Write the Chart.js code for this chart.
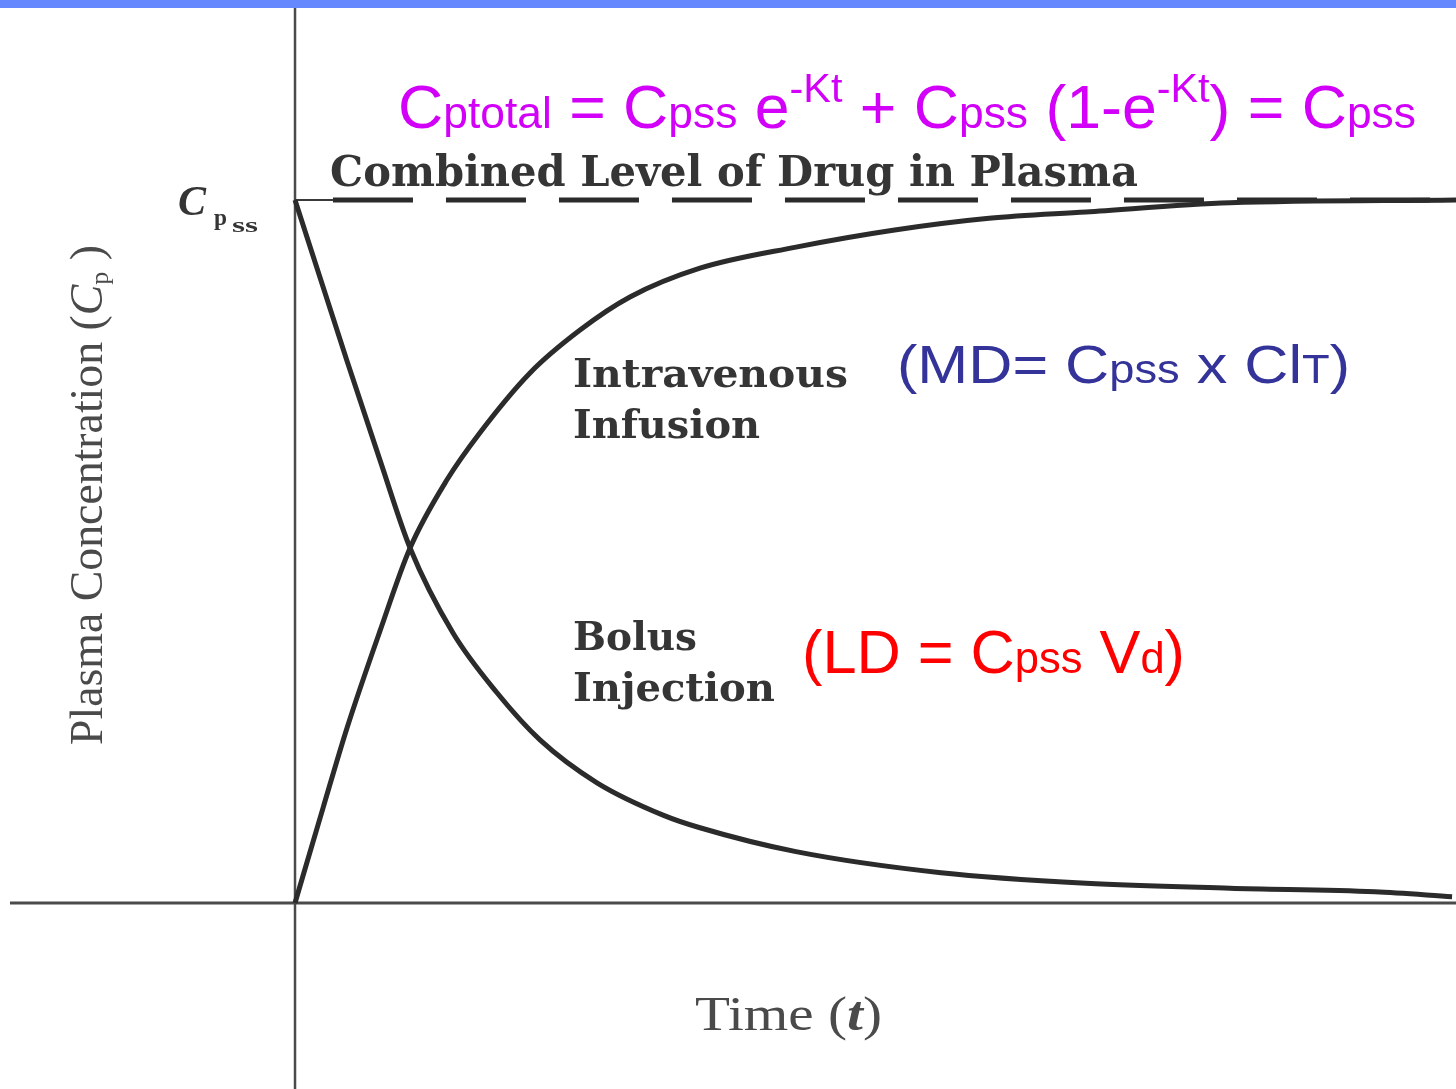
<!DOCTYPE html>
<html lang="en">
<head>
  <meta charset="UTF-8">
  <title>Bolus vs Infusion - Plasma Concentration</title>
  <script src="https://cdn.jsdelivr.net/npm/chart.js"></script>
  <style>
    body { margin: 0; background: #fff; overflow: hidden; }
    .topbar { position: absolute; left: 0; top: 0; width: 1456px; height: 8px; background: #6688ff; z-index: 2; }
    .wrap { position: absolute; left: 0; top: 0; width: 1456px; height: 1089px; }
  </style>
</head>
<body>
  <div class="topbar"></div>
  <div class="wrap"><canvas id="pkChart" width="1456" height="1089"></canvas></div>

  <script>
    // time in arbitrary units, concentration as a fraction of Cpss
    const bolusTime = [0, 0.448, 0.732, 0.991, 1.361, 1.740, 2.110, 2.601, 3.170, 3.488, 4.315, 5.564, 6.813, 8.053, 9.302, 9.966];
    const bolusConc = [1.0, 0.771, 0.630, 0.505, 0.384, 0.299, 0.232, 0.171, 0.125, 0.107, 0.073, 0.043, 0.028, 0.021, 0.016, 0.009];

    const infusionTime = [0, 0.241, 0.448, 0.732, 0.991, 1.309, 1.593, 2.024, 2.455, 2.885, 3.488, 4.315, 5.151, 5.978, 6.813, 8.053, 10];
    const infusionConc = [0, 0.135, 0.249, 0.387, 0.505, 0.602, 0.669, 0.754, 0.815, 0.862, 0.903, 0.933, 0.957, 0.974, 0.983, 0.996, 1.0];

    // combined steady-state level (dashed) and the short Cpss tick before it
    const levelTime = [0.327, 10];
    const levelConc = [1, 1];
    const tickTime = [0, 0.327];
    const tickConc = [1, 1];

    const xRange = [-2.541, 10];
    const yRange = [-0.2646, 1.2845];
    const timeAxisStart = -2.455;

    const toPoints = (xs, ys) => xs.map((x, i) => ({ x: x, y: ys[i] }));

    // draw text squeezed/stretched to a given width
    function fitText(ctx, text, x, y, width, font, color) {
      ctx.save();
      ctx.font = font;
      ctx.fillStyle = color;
      ctx.textBaseline = 'alphabetic';
      const w = ctx.measureText(text).width;
      ctx.translate(x, y);
      ctx.scale(width / w, 1);
      ctx.fillText(text, 0, 0);
      ctx.restore();
    }

    // runs of text with sub/superscripts: [text, font, dy]
    function drawRuns(ctx, runs, x, y, width, color) {
      ctx.save();
      ctx.fillStyle = color;
      ctx.textBaseline = 'alphabetic';
      let total = 0;
      runs.forEach(r => { ctx.font = r[1]; total += ctx.measureText(r[0]).width; });
      ctx.translate(x, y);
      ctx.scale(width / total, 1);
      let cx = 0;
      runs.forEach(r => {
        ctx.font = r[1];
        ctx.fillText(r[0], cx, r[2] || 0);
        cx += ctx.measureText(r[0]).width;
      });
      ctx.restore();
    }

    const axesPlugin = {
      id: 'axesLines',
      beforeDatasetsDraw(chart) {
        const { ctx, chartArea, scales } = chart;
        const x0 = scales.x.getPixelForValue(0);
        const y0 = scales.y.getPixelForValue(0);
        ctx.save();
        ctx.strokeStyle = '#4a4a4a';
        ctx.lineWidth = 3;
        ctx.beginPath();
        ctx.moveTo(scales.x.getPixelForValue(timeAxisStart), y0);
        ctx.lineTo(chartArea.right, y0);
        ctx.stroke();
        ctx.lineWidth = 2.5;
        ctx.beginPath();
        ctx.moveTo(x0, chartArea.top);
        ctx.lineTo(x0, chartArea.bottom);
        ctx.stroke();
        ctx.restore();
      }
    };

    const labelPlugin = {
      id: 'labels',
      afterDraw(chart) {
        const ctx = chart.ctx;
        const sans = '"Liberation Sans", Arial, sans-serif';
        const slab = '"DejaVu Serif", serif';
        const serif = '"Liberation Serif", "Times New Roman", serif';
        const ink = '#353535';

        // formula
        drawRuns(ctx, [
          ['C', '62px ' + sans], ['ptotal', '44px ' + sans], [' = ', '62px ' + sans],
          ['C', '62px ' + sans], ['pss', '44px ' + sans], [' e', '62px ' + sans],
          ['-Kt', '41px ' + sans, -26], [' + ', '62px ' + sans],
          ['C', '62px ' + sans], ['pss', '44px ' + sans], [' (1-e', '62px ' + sans],
          ['-Kt', '41px ' + sans, -26], [')', '62px ' + sans], [' = ', '62px ' + sans],
          ['C', '62px ' + sans], ['pss', '44px ' + sans]
        ], 398, 128, 1018, '#d200f8');

        fitText(ctx, 'Combined Level of Drug in Plasma', 330, 186, 808, 'bold 42px ' + slab, ink);
        fitText(ctx, 'Intravenous', 573, 387, 275, 'bold 40px ' + slab, ink);
        fitText(ctx, 'Infusion', 573, 438, 187, 'bold 40px ' + slab, ink);
        fitText(ctx, 'Bolus', 573, 650, 124, 'bold 40px ' + slab, ink);
        fitText(ctx, 'Injection', 573, 701, 202, 'bold 40px ' + slab, ink);

        drawRuns(ctx, [
          ['(MD= C', '54px ' + sans], ['pss', '40px ' + sans], [' x Cl', '54px ' + sans],
          ['T', '40px ' + sans], [')', '54px ' + sans]
        ], 897, 383, 453, '#333399');

        drawRuns(ctx, [
          ['(LD = C', '62px ' + sans], ['pss', '44px ' + sans], [' V', '62px ' + sans],
          ['d', '44px ' + sans], [')', '62px ' + sans]
        ], 802, 673, 383, '#ff0000');

        // Cpss tick label
        ctx.save();
        ctx.fillStyle = ink;
        ctx.font = 'italic bold 42px ' + serif;
        ctx.fillText('C', 178, 215);
        ctx.restore();
        fitText(ctx, 'p', 214, 225, 13, 'bold 24px ' + serif, ink);
        fitText(ctx, 'ss', 232, 232, 26, 'bold 20px ' + serif, ink);

        // y axis title
        ctx.save();
        ctx.translate(102, 745);
        ctx.rotate(-Math.PI / 2);
        drawRuns(ctx, [
          ['Plasma Concentration (', '46px ' + serif], ['C', 'italic 46px ' + serif],
          ['p', '26px ' + serif, 6], [' )', '46px ' + serif]
        ], 0, 0, 500, '#4a4a4a');
        ctx.restore();

        // x axis title
        drawRuns(ctx, [
          ['Time (', '48px ' + serif], ['t', 'italic bold 48px ' + serif], [')', '48px ' + serif]
        ], 695, 1030, 187, '#4a4a4a');
      }
    };

    const curveStyle = {
      showLine: true,
      borderColor: '#2b2b2b',
      borderWidth: 5,
      pointRadius: 0,
      cubicInterpolationMode: 'monotone',
      fill: false
    };

    new Chart(document.getElementById('pkChart').getContext('2d'), {
      type: 'scatter',
      data: {
        datasets: [
          Object.assign({ label: 'Bolus Injection', data: toPoints(bolusTime, bolusConc) }, curveStyle),
          Object.assign({ label: 'Intravenous Infusion', data: toPoints(infusionTime, infusionConc) }, curveStyle),
          {
            label: 'Combined Level of Drug in Plasma',
            data: toPoints(levelTime, levelConc),
            showLine: true,
            borderColor: '#2b2b2b',
            borderWidth: 5,
            borderDash: [80, 33],
            pointRadius: 0
          },
          {
            label: 'Cpss',
            data: toPoints(tickTime, tickConc),
            showLine: true,
            borderColor: '#3a3a3a',
            borderWidth: 2,
            pointRadius: 0
          }
        ]
      },
      options: {
        responsive: false,
        animation: false,
        layout: { padding: 0 },
        plugins: { legend: { display: false }, tooltip: { enabled: false } },
        scales: {
          x: { type: 'linear', min: xRange[0], max: xRange[1], display: false },
          y: { type: 'linear', min: yRange[0], max: yRange[1], display: false }
        }
      },
      plugins: [axesPlugin, labelPlugin]
    });
  </script>
</body>
</html>
